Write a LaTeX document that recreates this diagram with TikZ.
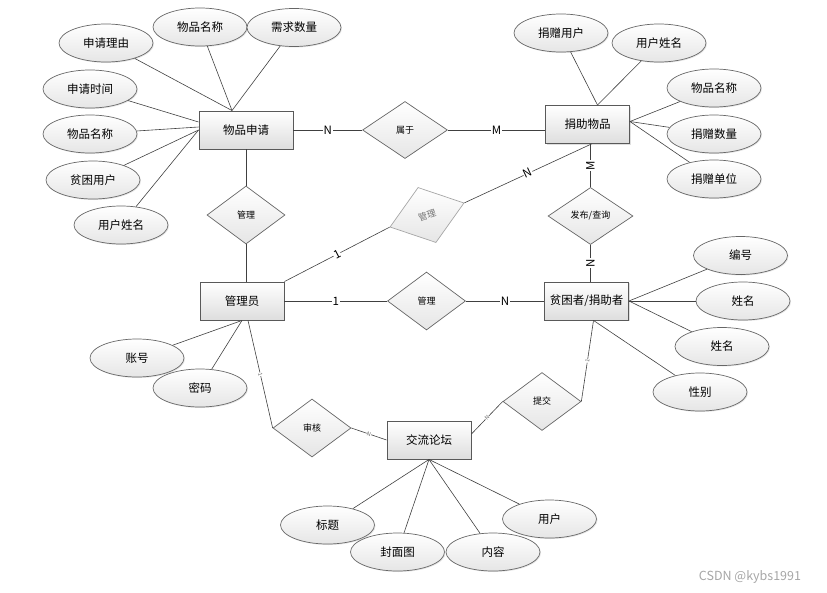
\documentclass[tikz,border=0pt]{standalone}
\usepackage{fontspec}
\setmainfont{Noto Sans CJK SC}
\usetikzlibrary{shapes.geometric,shadows}

\begin{document}
\begin{tikzpicture}[x=1pt, y=-1pt,
    every node/.style={font=\fontsize{11.5}{13}\selectfont},
    entity/.style={draw=black!65, line width=0.9pt, top color=white, bottom color=black!13,
        minimum width=84pt, minimum height=38pt, inner sep=1pt,
        drop shadow={shadow xshift=1pt, shadow yshift=-1pt, opacity=0.25}},
    attr/.style={ellipse, draw=black!60, line width=0.7pt, top color=white, bottom color=black!10,
        minimum width=94pt, minimum height=38pt, inner sep=0pt,
        drop shadow={shadow xshift=1pt, shadow yshift=-1pt, opacity=0.2}},
    rel/.style={diamond, draw=black!60, line width=0.7pt, top color=white, bottom color=black!10,
        minimum width=78pt, minimum height=58pt, inner sep=0pt, font=\fontsize{9}{10}\selectfont},
    conn/.style={draw=black!75, line width=0.6pt},
    card/.style={fill=white, inner sep=0.6pt, font=\fontsize{11.5}{12}\selectfont},
    mini/.style={fill=white, inner sep=0.2pt, sloped, text=black!60, font=\fontsize{5.5}{6}\selectfont}]
    \useasboundingbox (0,0) rectangle (827,592);

    \node[entity, minimum width=94pt] (wpsq) at (246,130) {物品申请};
    \node[entity] (jzwp) at (587.5,124.5) {捐助物品};
    \node[entity] (gly) at (242,301) {管理员};
    \node[entity] (pkz) at (586.5,301) {贫困者/捐助者};
    \node[entity] (jllt) at (429,440) {交流论坛};

    \node[rel, minimum width=85pt, minimum height=57pt] (sy) at (405,130) {属于};
    \node[rel] (gl1) at (246,215) {管理};
    \node[rel, minimum width=85pt, minimum height=57pt] (fbcx) at (590.5,216) {发布/查询};
    \node[rel] (gl2) at (426.5,301) {管理};
    \node[rel, rotate=18, draw=black!35, text=black!55] (gl3) at (427,215) {管理};
    \node[rel] (sh) at (312,428) {审核};
    \node[rel] (tj) at (542,401.5) {提交};

    \node[attr] (sqly) at (106,43) {申请理由};
    \node[attr] (wpmc1) at (200,27) {物品名称};
    \node[attr] (xqsl) at (294,27.5) {需求数量};
    \node[attr] (sqsj) at (90,89) {申请时间};
    \node[attr] (wpmc2) at (90,134) {物品名称};
    \node[attr] (pkyh) at (93,180) {贫困用户};
    \node[attr] (yhxm1) at (121,225) {用户姓名};
    \node[attr] (jzyh) at (561,33) {捐赠用户};
    \node[attr] (yhxm2) at (659,43) {用户姓名};
    \node[attr] (wpmc3) at (714,88) {物品名称};
    \node[attr] (jzsl) at (714,134) {捐赠数量};
    \node[attr] (jzdw) at (714,179) {捐赠单位};
    \node[attr] (bh) at (740.5,255.5) {编号};
    \node[attr] (xm1) at (743,301) {姓名};
    \node[attr] (xm2) at (722,346.5) {姓名};
    \node[attr] (xb) at (700,392) {性别};
    \node[attr] (zh) at (137,358) {账号};
    \node[attr] (mm) at (200,388) {密码};
    \node[attr] (bt) at (327.5,525) {标题};
    \node[attr] (fmt) at (397.5,552) {封面图};
    \node[attr] (nr) at (493,552) {内容};
    \node[attr] (yh) at (549.5,519) {用户};

    \draw[conn] (sqly) -- ([xshift=-14pt]wpsq.north);
    \draw[conn] (wpmc1) -- ([xshift=-14pt]wpsq.north);
    \draw[conn] (xqsl) -- ([xshift=-14pt]wpsq.north);
    \draw[conn] (sqsj) -- ([yshift=8pt]wpsq.west);
    \draw[conn] (wpmc2) -- ([yshift=3pt]wpsq.west);
    \draw[conn] (pkyh) -- (wpsq.west);
    \draw[conn] (yhxm1) -- (wpsq.west);

    \draw[conn] (jzyh) -- ([xshift=10pt]jzwp.north);
    \draw[conn] (yhxm2) -- ([xshift=10pt]jzwp.north);
    \draw[conn] (wpmc3) -- ([yshift=3pt]jzwp.east);
    \draw[conn] (jzsl) -- ([yshift=3pt]jzwp.east);
    \draw[conn] (jzdw) -- ([yshift=3pt]jzwp.east);

    \draw[conn] (bh) -- (pkz.east);
    \draw[conn] (xm1) -- (pkz.east);
    \draw[conn] (xm2) -- (pkz.east);
    \draw[conn] (xb) -- ([xshift=7pt]pkz.south);

    \draw[conn] (zh) -- (gly.south);
    \draw[conn] (mm) -- (gly.south);

    \draw[conn] (bt) -- (jllt.south);
    \draw[conn] (fmt) -- (jllt.south);
    \draw[conn] (nr) -- (jllt.south);
    \draw[conn] (yh) -- (jllt.south);

    \draw[conn] (wpsq.east) -- (sy.west) node[card, midway] {N};
    \draw[conn] (sy.east) -- (sy.east -| jzwp.west) node[card, midway] {M};
    \draw[conn] (wpsq.south) -- (gl1.north);
    \draw[conn] (gl1.south) -- (gl1.south |- gly.north);
    \draw[conn] (fbcx.north) -- (fbcx.north |- jzwp.south) node[card, midway, sloped] {M};
    \draw[conn] (fbcx.south |- pkz.north) -- (fbcx.south) node[card, midway, sloped] {N};
    \draw[conn] (gly.east) -- (gl2.west) node[card, midway] {1};
    \draw[conn] (gl2.east) -- (pkz.west) node[card, midway] {N};
    \draw[conn] (gly.north east) -- (gl3.west) node[card, midway, sloped] {1};
    \draw[conn] (gl3.east) -- ([xshift=4pt]jzwp.south) node[card, midway, sloped] {N};

    \draw[conn] ([xshift=6pt]gly.south) -- (sh.west) node[mini, midway] {1};
    \draw[conn] (sh.east) -- (jllt.west) node[mini, midway] {N};
    \draw[conn] ([yshift=6pt]jllt.east) -- (tj.west) node[mini, midway] {N};
    \draw[conn] (tj.east) -- ([xshift=7pt]pkz.south) node[mini, midway] {1};

    \node[text=black!35, font=\fontsize{12.5}{14}\selectfont] (wm) at (750,577) {CSDN @kybs1991};
\end{tikzpicture}
\end{document}
